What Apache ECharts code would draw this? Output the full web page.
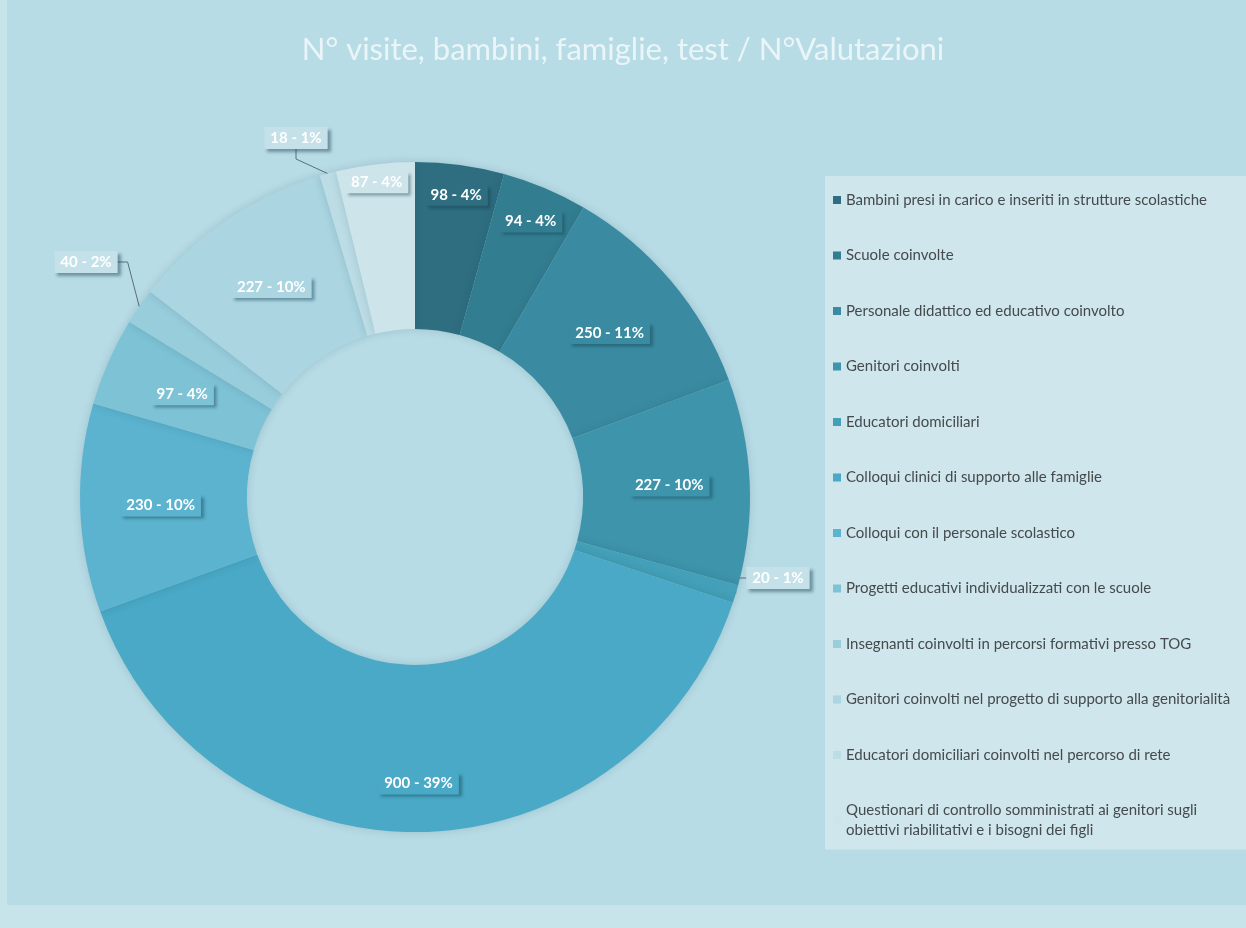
<!DOCTYPE html>
<html>
<head>
<meta charset="utf-8">
<script src="https://cdn.jsdelivr.net/npm/echarts@6/dist/echarts.min.js"></script>
<style>
  html, body { margin: 0; padding: 0; background: #c7e4eb; }
  #bg { position: absolute; left: 7px; top: 0; width: 1239px; height: 905px; background: #b8dce6; }
  #chart { position: absolute; left: 0; top: 0; width: 1246px; height: 928px; }
</style>
</head>
<body>
<div id="bg"></div>
<div id="chart"></div>
<script>
const titleText = 'N° visite, bambini, famiglie, test / N°Valutazioni';
const categories = [
  'Bambini presi in carico e inseriti in strutture scolastiche',
  'Scuole coinvolte',
  'Personale didattico ed educativo coinvolto',
  'Genitori coinvolti',
  'Educatori domiciliari',
  'Colloqui clinici di supporto alle famiglie',
  'Colloqui con il personale scolastico',
  'Progetti educativi individualizzati con le scuole',
  'Insegnanti coinvolti in percorsi formativi presso TOG',
  'Genitori coinvolti nel progetto di supporto alla genitorialità',
  'Educatori domiciliari coinvolti nel percorso di rete',
  'Questionari di controllo somministrati ai genitori sugli obiettivi riabilitativi e i bisogni dei figli'
];
const values = [98, 94, 250, 227, 20, 900, 230, 97, 40, 227, 18, 87];
const colors = ['#2e6e80', '#337d90', '#3a8ba1', '#3e94ab', '#43a0b8', '#49a9c6', '#5cb3cf', '#7ec2d6', '#98cddc', '#aad5e1', '#bddde6', '#cde4ea'];

const outsideIdx = [4, 8, 10];
const outsidePos = { 4: [778, 578], 8: [86, 262], 10: [296, 138] };
const insideShift = { 0: [7, -50], 1: [17, -41], 11: [-8, -62], 5: [0, 32] };

const total = values.reduce((a, b) => a + b, 0);

const chart = echarts.init(document.getElementById('chart'));

const data = values.map((v, i) => {
  const d = { name: categories[i], value: v, itemStyle: { color: colors[i] } };
  if (outsideIdx.includes(i)) {
    d.label = { position: 'outside', backgroundColor: '#c4e1e9', color: '#ffffff' };
    d.labelLine = { show: true };
  }
  return d;
});

chart.setOption({
  backgroundColor: 'transparent',
  title: {
    text: titleText,
    left: 'center',
    top: 29,
    textStyle: { color: '#eaf5f8', fontSize: 31, fontWeight: 'normal', fontFamily: 'Lato' }
  },
  legend: {
    orient: 'vertical',
    left: 825,
    top: 176,
    icon: 'rect',
    itemWidth: 8,
    itemHeight: 8,
    itemGap: 35.5,
    padding: [14, 6, 9, 8],
    backgroundColor: '#cfe6ec',
    data: categories,
    textStyle: {
      color: '#454a4d',
      fontSize: 15,
      fontFamily: 'Lato',
      width: 394,
      overflow: 'break',
      lineHeight: 20
    }
  },
  series: [{
    type: 'pie',
    center: [415, 497],
    radius: [168, 335],
    startAngle: 90,
    clockwise: true,
    avoidLabelOverlap: false,
    itemStyle: { borderWidth: 0, shadowBlur: 8, shadowColor: 'rgba(20,70,90,0.18)' },
    label: {
      show: true,
      position: 'inside',
      formatter: p => p.value + ' - ' + Math.round(p.value / total * 100) + '%',
      color: '#ffffff',
      fontSize: 15,
      fontWeight: 'bold',
      fontFamily: 'Lato',
      backgroundColor: 'inherit',
      padding: [4, 6, 3, 6],
      shadowBlur: 3,
      shadowOffsetX: 3,
      shadowOffsetY: 3,
      shadowColor: 'rgba(20,60,75,0.45)'
    },
    labelLine: { show: false, lineStyle: { color: '#5b6f76', width: 1 }, length: 10, length2: 10 },
    labelLayout: function (params) {
      const i = params.dataIndex;
      if (outsidePos[i]) {
        return { x: outsidePos[i][0], y: outsidePos[i][1], align: 'center', verticalAlign: 'middle' };
      }
      if (insideShift[i]) {
        return { dx: insideShift[i][0], dy: insideShift[i][1] };
      }
      return {};
    },
    data: data
  }]
});
</script>
</body>
</html>
